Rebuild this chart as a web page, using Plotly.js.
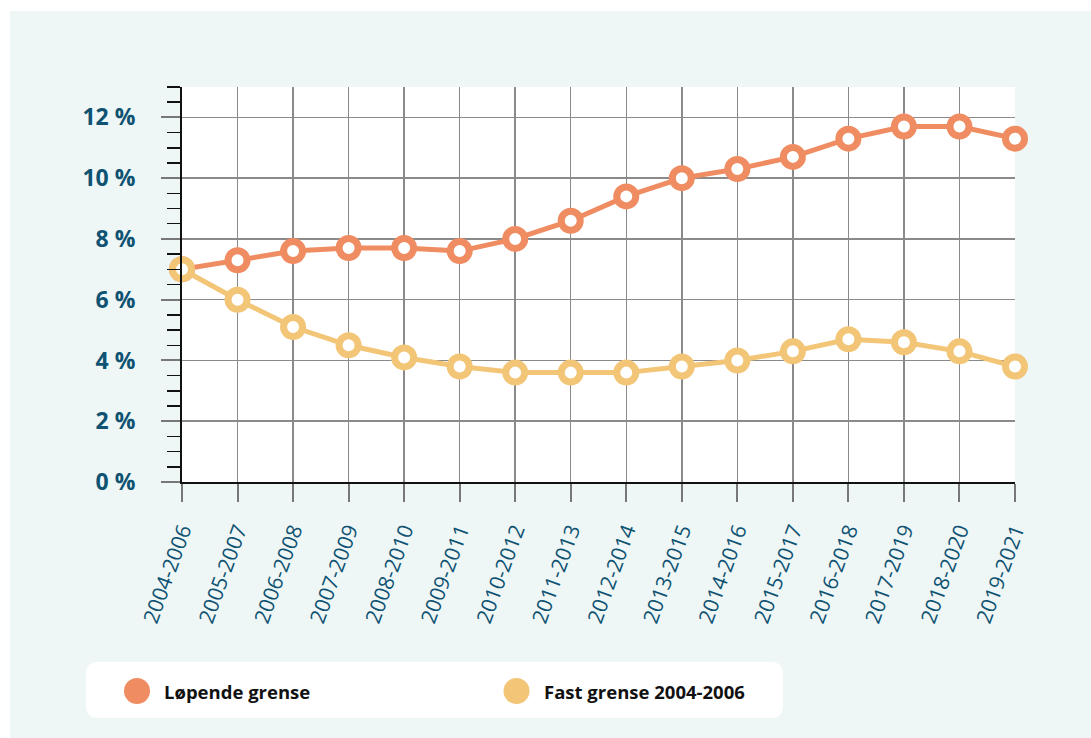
<!DOCTYPE html>
<html>
<head>
<meta charset="utf-8">
<script src="https://cdn.plot.ly/plotly-3.0.1.min.js"></script>
<style>
  html, body { margin: 0; padding: 0; background: #ffffff; width: 1091px; height: 738px; overflow: hidden; }
  #chart { position: absolute; left: 10px; top: 11px; width: 1081px; height: 727px; }
</style>
</head>
<body>
<div id="chart"></div>
<script>
const periods = ['2004-2006','2005-2007','2006-2008','2007-2009','2008-2010','2009-2011','2010-2012','2011-2013','2012-2014','2013-2015','2014-2016','2015-2017','2016-2018','2017-2019','2018-2020','2019-2021'];
const lopendeGrense = [7.0, 7.3, 7.6, 7.7, 7.7, 7.6, 8.0, 8.6, 9.4, 10.0, 10.3, 10.7, 11.3, 11.7, 11.7, 11.3];
const fastGrense = [7.0, 6.0, 5.1, 4.5, 4.1, 3.8, 3.6, 3.6, 3.6, 3.8, 4.0, 4.3, 4.7, 4.6, 4.3, 3.8];
const seriesNames = ['Løpende grense', 'Fast grense 2004-2006'];
const yTicks = [0, 2, 4, 6, 8, 10, 12];

const orange = '#F08C61';
const yellow = '#F3C577';
const textBlue = '#0F5272';

function lineTrace(name, values, color) {
  return {
    type: 'scatter', mode: 'lines+markers', name: name,
    x: periods, y: values,
    line: { color: color, width: 5 },
    marker: { size: 19, color: '#ffffff', line: { color: color, width: 7 } },
    cliponaxis: false, showlegend: false, hoverinfo: 'x+y'
  };
}

const data = [
  lineTrace(seriesNames[0], lopendeGrense, orange),
  lineTrace(seriesNames[1], fastGrense, yellow)
];

const layout = {
  width: 1081, height: 727,
  paper_bgcolor: '#EEF7F6',
  plot_bgcolor: '#ffffff',
  margin: { l: 172, r: 76, t: 76, b: 256 },
  font: { family: '"Open Sans", sans-serif', color: textBlue },
  xaxis: {
    type: 'category',
    range: [0, periods.length - 1],
    showgrid: true, gridcolor: '#8a8a8a', gridwidth: 1.5,
    showline: true, linecolor: '#111111', linewidth: 2,
    ticks: 'outside', ticklen: 18, tickwidth: 2, tickcolor: '#777777',
    tickangle: -70, ticklabelstandoff: 8,
    tickfont: { size: 21, color: textBlue, family: '"Open Sans", sans-serif' },
    zeroline: false, fixedrange: true
  },
  yaxis: {
    range: [0, 13],
    tickvals: yTicks, ticktext: yTicks.map(v => v + ' %'),
    showgrid: true, gridcolor: '#8a8a8a', gridwidth: 1.5,
    showline: true, linecolor: '#111111', linewidth: 2,
    ticks: 'outside', ticklen: 19, tickwidth: 2, tickcolor: '#777777',
    ticklabelstandoff: 21,
    tickfont: { size: 23, color: textBlue, family: '"Open Sans", sans-serif', weight: 'bold' },
    minor: { dtick: 0.5, tick0: 0, ticks: 'outside', ticklen: 13, tickwidth: 1.5, tickcolor: '#111111', showgrid: false },
    zeroline: false, fixedrange: true
  },
  shapes: [
    {
      type: 'path', xref: 'paper', yref: 'paper',
      xsizemode: 'pixel', ysizemode: 'pixel', xanchor: 0, yanchor: 0,
      path: 'M -84,-180 L 589,-180 Q 601,-180 601,-192 L 601,-224 Q 601,-236 589,-236 L -84,-236 Q -96,-236 -96,-224 L -96,-192 Q -96,-180 -84,-180 Z',
      fillcolor: '#ffffff', line: { width: 0 }, layer: 'below'
    },
    {
      type: 'circle', xref: 'paper', yref: 'paper',
      xsizemode: 'pixel', ysizemode: 'pixel', xanchor: 0, yanchor: 0,
      x0: -58, x1: -32, y0: -196, y1: -222,
      fillcolor: orange, line: { width: 0 }
    },
    {
      type: 'circle', xref: 'paper', yref: 'paper',
      xsizemode: 'pixel', ysizemode: 'pixel', xanchor: 0, yanchor: 0,
      x0: 321.5, x1: 347.5, y0: -196, y1: -222,
      fillcolor: yellow, line: { width: 0 }
    }
  ],
  annotations: [
    {
      xref: 'paper', yref: 'paper', x: 0, y: 0, xanchor: 'left', yanchor: 'middle',
      xshift: -20, yshift: -209, showarrow: false, text: seriesNames[0],
      font: { size: 18.5, color: '#111111', family: '"Open Sans", sans-serif', weight: 'bold' }
    },
    {
      xref: 'paper', yref: 'paper', x: 0, y: 0, xanchor: 'left', yanchor: 'middle',
      xshift: 360, yshift: -209, showarrow: false, text: seriesNames[1],
      font: { size: 18.5, color: '#111111', family: '"Open Sans", sans-serif', weight: 'bold' }
    }
  ]
};

Plotly.newPlot('chart', data, layout, { displayModeBar: false, staticPlot: true });
</script>
</body>
</html>
